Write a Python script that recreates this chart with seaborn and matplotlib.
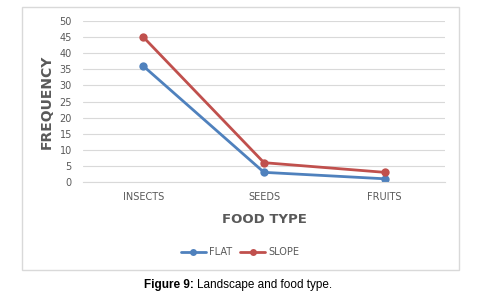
import matplotlib
matplotlib.use("Agg")
import matplotlib.pyplot as plt
import seaborn as sns
import pandas as pd
from matplotlib.patches import Rectangle
from matplotlib.lines import Line2D

categories = ["INSECTS", "SEEDS", "FRUITS"]
flat = [36, 3, 1]
slope = [45, 6, 3]
series_names = ["FLAT", "SLOPE"]
yticks = [0, 5, 10, 15, 20, 25, 30, 35, 40, 45, 50]

df = pd.DataFrame({
    "food": categories * 2,
    "freq": flat + slope,
    "series": [series_names[0]] * 3 + [series_names[1]] * 3,
})

sns.set_style("white")
plt.rcParams['font.family'] = ['DejaVu Sans']

fig = plt.figure(figsize=(4.82, 3.08), dpi=100)
W, H = 482, 308
ax = fig.add_axes([83 / W, 1 - 182 / H, (445 - 83) / W, (182 - 21) / H])

fig.patches.append(Rectangle((22 / W, 1 - 270 / H), (459 - 22) / W, (270 - 7) / H,
                             transform=fig.transFigure, fill=False,
                             edgecolor="#D9D9D9", linewidth=1.0))

palette = {"FLAT": "#4F81BD", "SLOPE": "#C0504D"}
sns.lineplot(data=df, x="food", y="freq", hue="series", palette=palette,
             marker="o", markersize=6, markeredgewidth=0, linewidth=2.0,
             sort=False, ax=ax, legend=False)

ax.set_ylim(0, 50)
ax.set_xlim(-0.5, 2.5)
ax.set_yticks(yticks)
ax.yaxis.grid(True, color="#D9D9D9", linewidth=0.8)
ax.set_axisbelow(True)
for s in ["top", "right", "left"]:
    ax.spines[s].set_visible(False)
ax.spines["bottom"].set_color("#D9D9D9")
ax.tick_params(axis="both", length=0, labelsize=7, labelcolor="#595959")
ax.tick_params(axis="x", pad=7)
ax.tick_params(axis="y", pad=8)

ax.set_xlabel("FOOD TYPE", fontsize=9.5, fontweight="bold", color="#595959", labelpad=8)
ax.set_ylabel("FREQUENCY", fontsize=10, fontweight="bold", color="#595959", labelpad=4)

handles = [Line2D([0], [0], color=palette[n], marker="o", markersize=5,
                  markeredgewidth=0, linewidth=2.0) for n in series_names]
fig.legend(handles, series_names, loc="center", bbox_to_anchor=(240 / W, 1 - 252 / H),
           ncol=2, frameon=False, fontsize=7, handlelength=2.6, columnspacing=0.8,
           handletextpad=0.3, labelcolor="#595959")

# caption: bold prefix + normal text
cap_font = ['Liberation Sans', 'DejaVu Sans']
t1 = fig.text(144 / W, 1 - 285 / H, "Figure 9:", ha="left", va="center",
              fontsize=8.5, fontweight="bold", family=cap_font, color="black")
fig.canvas.draw()
bb = t1.get_window_extent()
fig.text((bb.x1 + 3) / W, 1 - 285 / H, "Landscape and food type.", ha="left",
         va="center", fontsize=8.5, family=cap_font, color="black")

fig.savefig("out.png", dpi=100, facecolor="white")
